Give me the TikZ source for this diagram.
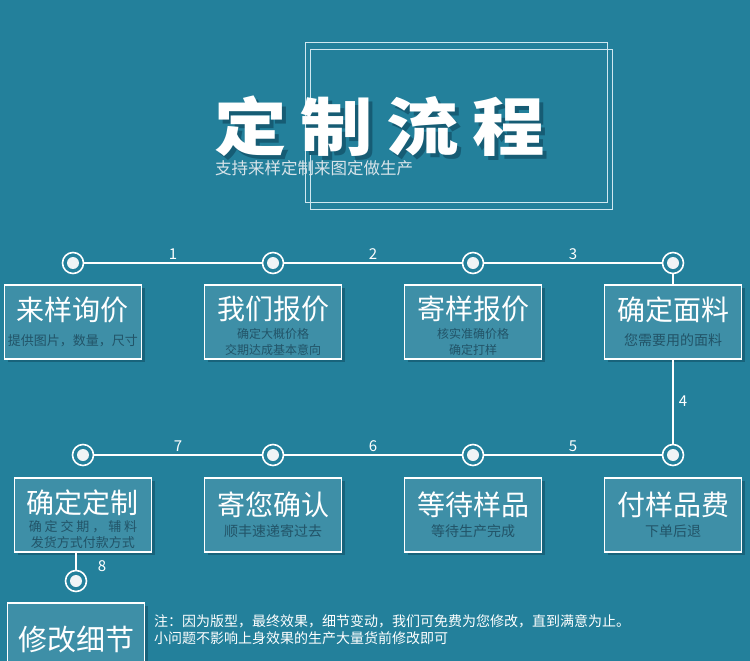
\documentclass[tikz,border=0pt]{standalone}
\usepackage{fontspec}
\usepackage{graphicx}
\usepackage{xcolor}
\usepackage{tikz}
\usetikzlibrary{positioning,shadows}
\newfontfamily\cjk{Noto Sans CJK SC}
\definecolor{FlowBg}{RGB}{35,128,155}
\definecolor{FlowBox}{RGB}{62,143,167}
\definecolor{FlowShade}{RGB}{22,92,116}
\definecolor{FlowSub}{RGB}{34,84,104}
\definecolor{FlowFrame}{RGB}{208,232,240}
\definecolor{FlowDot}{RGB}{240,244,246}
\definecolor{FlowLight}{RGB}{216,228,234}
\newcommand{\head}[2][29]{{\fontsize{28}{28}\selectfont\rule{0pt}{#1pt}#2}}
\newcommand{\subsize}[1]{\fontsize{#1}{16}\selectfont\color{FlowSub}}

\begin{document}
\begin{tikzpicture}[
  x=1pt, y=-1pt,
  dot/.style={circle, draw=white, line width=1.6pt, fill=FlowBg, minimum size=21pt, inner sep=0pt,
    path picture={\fill[FlowDot] (path picture bounding box.center) circle (6pt);}},
  box/.style={draw=white, line width=1.2pt, fill=FlowBox, minimum width=137pt, minimum height=74pt,
    inner sep=0pt, align=center, text=white, font=\cjk\fontsize{13}{16}\selectfont,
    drop shadow={shadow xshift=3pt, shadow yshift=-3pt, fill=FlowShade, opacity=0.8}},
  line/.style={draw=white, line width=1.6pt},
  num/.style={text=white, font=\cjk\fontsize{15}{15}\selectfont, inner sep=1pt},
  frame/.style={draw=FlowFrame, line width=1pt}
]
\fill[FlowBg] (0,0) rectangle (750,661);
\useasboundingbox (0,0) rectangle (750,661);
\clip (0,0) rectangle (750,661);

\draw[frame] (305,43) rectangle (607,202);
\draw[frame] (310,50) rectangle (612,209);
\node[anchor=west, inner sep=0pt, text=FlowShade, font=\cjk\bfseries\fontsize{63}{63}\selectfont] (title-shadow) at (218,130)
  {\scalebox{1.15}[1]{定\hspace{12pt}制\hspace{12pt}流\hspace{12pt}程}};
\node[anchor=west, inner sep=0pt, text=white, font=\cjk\bfseries\fontsize{63}{63}\selectfont] (title) at (214,126)
  {\scalebox{1.15}[1]{定\hspace{12pt}制\hspace{12pt}流\hspace{12pt}程}};
\node[anchor=west, inner sep=0pt, text=FlowLight, font=\cjk\fontsize{16.5}{16.5}\selectfont] (subtitle) at (215,168)
  {支持来样定制来图定做生产};

\node[dot] (c1) at (73,263) {};
\node[dot] (c2) at (273,263) {};
\node[dot] (c3) at (473,263) {};
\node[dot] (c4) at (673,263) {};
\node[dot] (c5) at (673,455) {};
\node[dot] (c6) at (473,455) {};
\node[dot] (c7) at (273,455) {};
\node[dot] (c8) at (83,455) {};
\node[dot] (c9) at (76,581) {};

\draw[line] (c4) -- (c4 |- 300,300);

\node[box, below=10pt of c1] (b1) {\head[23.6]{来样询价}\\[9pt]{\subsize{13}提供图片，数量，尺寸}};
\node[box, below=10pt of c2] (b2) {\head[31]{我们报价}\\[3.5pt]{\subsize{12}确定大概价格}\\{\subsize{12}交期达成基本意向}};
\node[box, below=10pt of c3] (b3) {\head[31]{寄样报价}\\[3.5pt]{\subsize{12}核实准确价格}\\{\subsize{12}确定打样}};
\node[box, below=10pt of c4] (b4) {\head[23.6]{确定面料}\\[9pt]{\subsize{14}您需要用的面料}};
\node[box, below=11pt of c5] (b5) {\head[21.6]{付样品费}\\[5pt]{\subsize{14}下单后退}};
\node[box, below=11pt of c6] (b6) {\head[21.6]{等待样品}\\[5pt]{\subsize{14}等待生产完成}};
\node[box, below=11pt of c7] (b7) {\head[21.6]{寄您确认}\\[5pt]{\subsize{14}顺丰速递寄过去}};
\node[box, below=11pt of c8] (b8) {\head[32]{确定定制}\\[1.5pt]{\subsize{13}确 定 交 期 ， 辅 料}\\{\subsize{13}发货方式付款方式}};
\node[box, below=10pt of c9, font=\cjk\fontsize{29}{29}\selectfont] (b9) {修改细节};

\draw[line] (c1) -- node[num, above=2pt] {1} (c2);
\draw[line] (c2) -- node[num, above=2pt] {2} (c3);
\draw[line] (c3) -- node[num, above=2pt] {3} (c4);
\draw[line] (b4) -- node[num, right=4pt] {4} (c5);
\draw[line] (c5) -- node[num, above=2pt] {5} (c6);
\draw[line] (c6) -- node[num, above=2pt] {6} (c7);
\draw[line] (c7) -- node[num, above=2pt] {7} (c8);
\draw[line] (c9 |- b8.south) -- node[num, pos=0.8, right=20pt] {8} (c9);

\node[anchor=west, align=left, inner sep=0pt, text=white, font=\cjk\fontsize{14}{17}\selectfont] (note) at (154,630)
  {注：因为版型，最终效果，细节变动，我们可免费为您修改，直到满意为止。\\小问题不影响上身效果的生产大量货前修改即可};
\end{tikzpicture}
\end{document}
